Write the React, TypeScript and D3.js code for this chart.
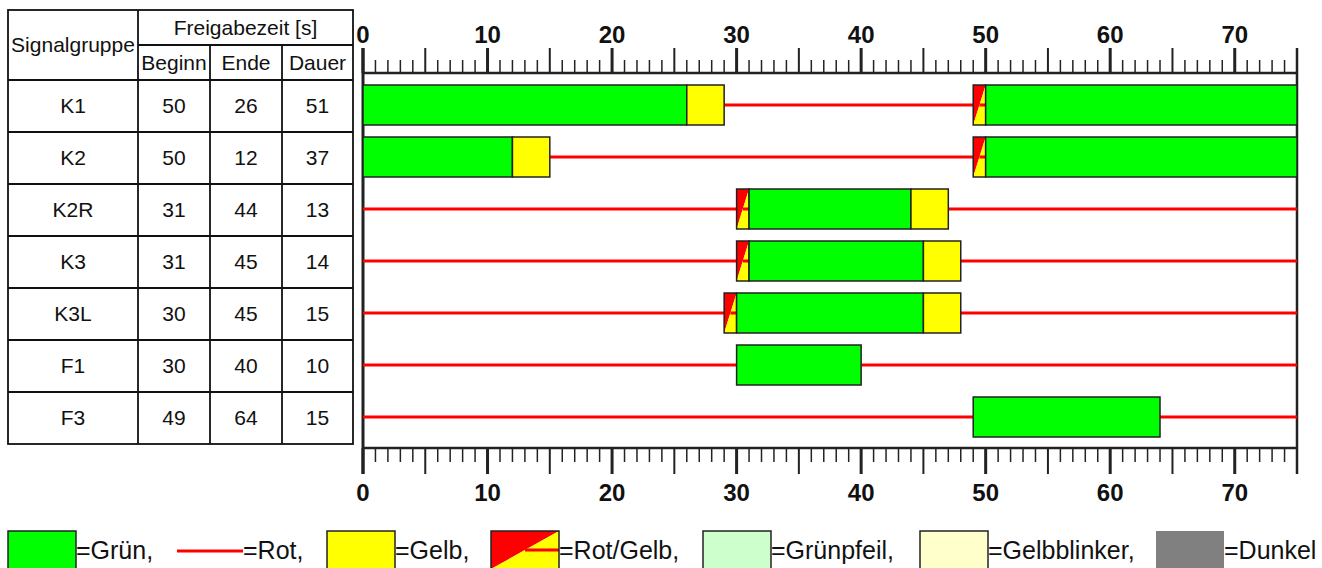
import React from 'react';
import * as d3 from 'd3';

const groups = ['K1', 'K2', 'K2R', 'K3', 'K3L', 'F1', 'F3'];
const beginn = [50, 50, 31, 31, 30, 30, 49];
const ende = [26, 12, 44, 45, 45, 40, 64];
const dauer = [51, 37, 13, 14, 15, 10, 15];

type Phase = [string, number, number];
const phases: Phase[][] = [
  [['gruen', 0, 26], ['gelb', 26, 29], ['rot', 29, 49], ['rotgelb', 49, 50], ['gruen', 50, 75]],
  [['gruen', 0, 12], ['gelb', 12, 15], ['rot', 15, 49], ['rotgelb', 49, 50], ['gruen', 50, 75]],
  [['rot', 0, 30], ['rotgelb', 30, 31], ['gruen', 31, 44], ['gelb', 44, 47], ['rot', 47, 75]],
  [['rot', 0, 30], ['rotgelb', 30, 31], ['gruen', 31, 45], ['gelb', 45, 48], ['rot', 48, 75]],
  [['rot', 0, 29], ['rotgelb', 29, 30], ['gruen', 30, 45], ['gelb', 45, 48], ['rot', 48, 75]],
  [['rot', 0, 30], ['gruen', 30, 40], ['rot', 40, 75]],
  [['rot', 0, 49], ['gruen', 49, 64], ['rot', 64, 75]],
];

const cycle = 75;
const tickLabels = [0, 10, 20, 30, 40, 50, 60, 70];

const legendItems = [
  { key: 'gruen', label: '=Grün,' },
  { key: 'rot', label: '=Rot,' },
  { key: 'gelb', label: '=Gelb,' },
  { key: 'rotgelb', label: '=Rot/Gelb,' },
  { key: 'gruenpfeil', label: '=Grünpfeil,' },
  { key: 'gelbblinker', label: '=Gelbblinker,' },
  { key: 'dunkel', label: '=Dunkel' },
];
const legendX = [8, 177, 327, 491, 703, 920, 1156];

const COLORS: Record<string, string> = {
  gruen: '#00ff00',
  gelb: '#ffff00',
  rot: '#ff0000',
  gruenpfeil: '#ccffcc',
  gelbblinker: '#ffffcc',
  dunkel: '#808080',
};

const FONT = '"Liberation Sans", Arial, sans-serif';
const EDGE = '#222';

function RotGelb({ x0, x1, y0, y1 }: { x0: number; x1: number; y0: number; y1: number }) {
  const ym = (y0 + y1) / 2;
  const xm = (x0 + x1) / 2;
  return (
    <g>
      <polygon points={`${x0},${y0} ${x1},${y0} ${x0},${y1}`} fill={COLORS.rot} />
      <polygon points={`${x1},${y0} ${x1},${y1} ${x0},${y1}`} fill={COLORS.gelb} />
      <line x1={xm} x2={x1} y1={ym} y2={ym} stroke={COLORS.rot} strokeWidth={3} />
      <rect x={x0} y={y0} width={x1 - x0} height={y1 - y0} fill="none" stroke={EDGE} strokeWidth={1.5} />
    </g>
  );
}

export default function App() {
  const W = 1322, H = 568;
  const x = d3.scaleLinear().domain([0, cycle]).range([363, 1297]);
  const rowsPlot = d3.scaleBand<string>().domain(groups).range([79, 443]);
  const rowsTable = d3.scaleBand<string>().domain(groups).range([80, 444]);
  const topY = 73, botY = 448;
  const barH = 40;

  const colX = [8, 138, 210, 282, 353];
  const tableTop = 10, headerMid = 45, headerBot = 80, tableBot = 444;

  const allTicks = d3.range(0, cycle + 1, 1);

  return (
    <svg width={W} height={H} style={{ position: 'absolute', left: 0, top: 0, background: '#fff' }}
      fontFamily={FONT}>
      <rect x={0} y={0} width={W} height={H} fill="#fff" />
      {/* table */}
      <g stroke="#111" strokeWidth={1.8} fill="none">
        <rect x={colX[0]} y={tableTop} width={colX[4] - colX[0]} height={tableBot - tableTop} />
        <line x1={colX[1]} x2={colX[4]} y1={headerMid} y2={headerMid} />
        <line x1={colX[0]} x2={colX[4]} y1={headerBot} y2={headerBot} />
        <line x1={colX[1]} x2={colX[1]} y1={tableTop} y2={tableBot} />
        <line x1={colX[2]} x2={colX[2]} y1={headerMid} y2={tableBot} />
        <line x1={colX[3]} x2={colX[3]} y1={headerMid} y2={tableBot} />
        {groups.slice(1).map((g) => (
          <line key={g} x1={colX[0]} x2={colX[4]} y1={rowsTable(g)!} y2={rowsTable(g)!} />
        ))}
      </g>
      <g fontSize={21} fill="#111" textAnchor="middle">
        <text x={(colX[0] + colX[1]) / 2} y={(tableTop + headerBot) / 2} dy="0.35em">Signalgruppe</text>
        <text x={(colX[1] + colX[4]) / 2} y={(tableTop + headerMid) / 2} dy="0.35em">Freigabezeit [s]</text>
        <text x={(colX[1] + colX[2]) / 2} y={(headerMid + headerBot) / 2} dy="0.35em">Beginn</text>
        <text x={(colX[2] + colX[3]) / 2} y={(headerMid + headerBot) / 2} dy="0.35em">Ende</text>
        <text x={(colX[3] + colX[4]) / 2} y={(headerMid + headerBot) / 2} dy="0.35em">Dauer</text>
        {groups.map((g, i) => {
          const cy = rowsTable(g)! + rowsTable.bandwidth() / 2;
          return (
            <g key={g}>
              <text x={(colX[0] + colX[1]) / 2} y={cy} dy="0.35em">{g}</text>
              <text x={(colX[1] + colX[2]) / 2} y={cy} dy="0.35em">{beginn[i]}</text>
              <text x={(colX[2] + colX[3]) / 2} y={cy} dy="0.35em">{ende[i]}</text>
              <text x={(colX[3] + colX[4]) / 2} y={cy} dy="0.35em">{dauer[i]}</text>
            </g>
          );
        })}
      </g>

      {/* plot frame */}
      <g stroke={EDGE}>
        <line x1={x(0)} x2={x(cycle)} y1={topY} y2={topY} strokeWidth={2.5} />
        <line x1={x(0)} x2={x(cycle)} y1={botY} y2={botY} strokeWidth={2.5} />
        <line x1={x(0)} x2={x(0)} y1={48} y2={474} strokeWidth={3} />
        <line x1={x(cycle)} x2={x(cycle)} y1={48} y2={474} strokeWidth={2.5} />
        {allTicks.map((t) => {
          const major = t % 10 === 0;
          const mid = t % 5 === 0;
          const sw = major ? 3 : mid ? 2 : 1.5;
          return (
            <g key={t}>
              <line x1={x(t)} x2={x(t)} y1={mid ? 48 : 60} y2={topY} strokeWidth={sw} />
              <line x1={x(t)} x2={x(t)} y1={botY} y2={mid ? 474 : 462} strokeWidth={sw} />
            </g>
          );
        })}
      </g>
      <g fontSize={24} fontWeight="bold" fill="#111" textAnchor="middle">
        {tickLabels.map((t) => (
          <g key={t}>
            <text x={x(t)} y={43}>{t}</text>
            <text x={x(t)} y={501}>{t}</text>
          </g>
        ))}
      </g>

      {/* signal rows */}
      {groups.map((g, i) => {
        const cy = rowsPlot(g)! + rowsPlot.bandwidth() / 2;
        const y0 = cy - barH / 2, y1 = cy + barH / 2;
        return (
          <g key={g}>
            {phases[i].filter((p) => p[0] === 'rot').map((p, j) => (
              <line key={'r' + j} x1={x(p[1])} x2={x(p[2])} y1={cy} y2={cy} stroke={COLORS.rot} strokeWidth={3} />
            ))}
            {phases[i].filter((p) => p[0] !== 'rot').map((p, j) =>
              p[0] === 'rotgelb' ? (
                <RotGelb key={j} x0={x(p[1])} x1={x(p[2])} y0={y0} y1={y1} />
              ) : (
                <rect key={j} x={x(p[1])} y={y0} width={x(p[2]) - x(p[1])} height={barH}
                  fill={COLORS[p[0]]} stroke={EDGE} strokeWidth={1.5} />
              )
            )}
          </g>
        );
      })}

      {/* legend */}
      <g fontSize={25} fill="#111">
        {legendItems.map((it, i) => {
          const lx = legendX[i];
          const bw = 68, by = 531, bh = 38;
          let sym: React.ReactNode;
          if (it.key === 'rot') {
            sym = <line x1={lx} x2={lx + 66} y1={551} y2={551} stroke={COLORS.rot} strokeWidth={3} />;
          } else if (it.key === 'rotgelb') {
            sym = <RotGelb x0={lx} x1={lx + bw} y0={by} y1={by + bh} />;
          } else {
            sym = <rect x={lx} y={by} width={bw} height={bh} fill={COLORS[it.key]}
              stroke={it.key === 'dunkel' ? 'none' : EDGE} strokeWidth={1.5} />;
          }
          const tx = it.key === 'rot' ? lx + 66 : lx + bw;
          return (
            <g key={it.key}>
              {sym}
              <text x={tx} y={559}>{it.label}</text>
            </g>
          );
        })}
      </g>
    </svg>
  );
}
